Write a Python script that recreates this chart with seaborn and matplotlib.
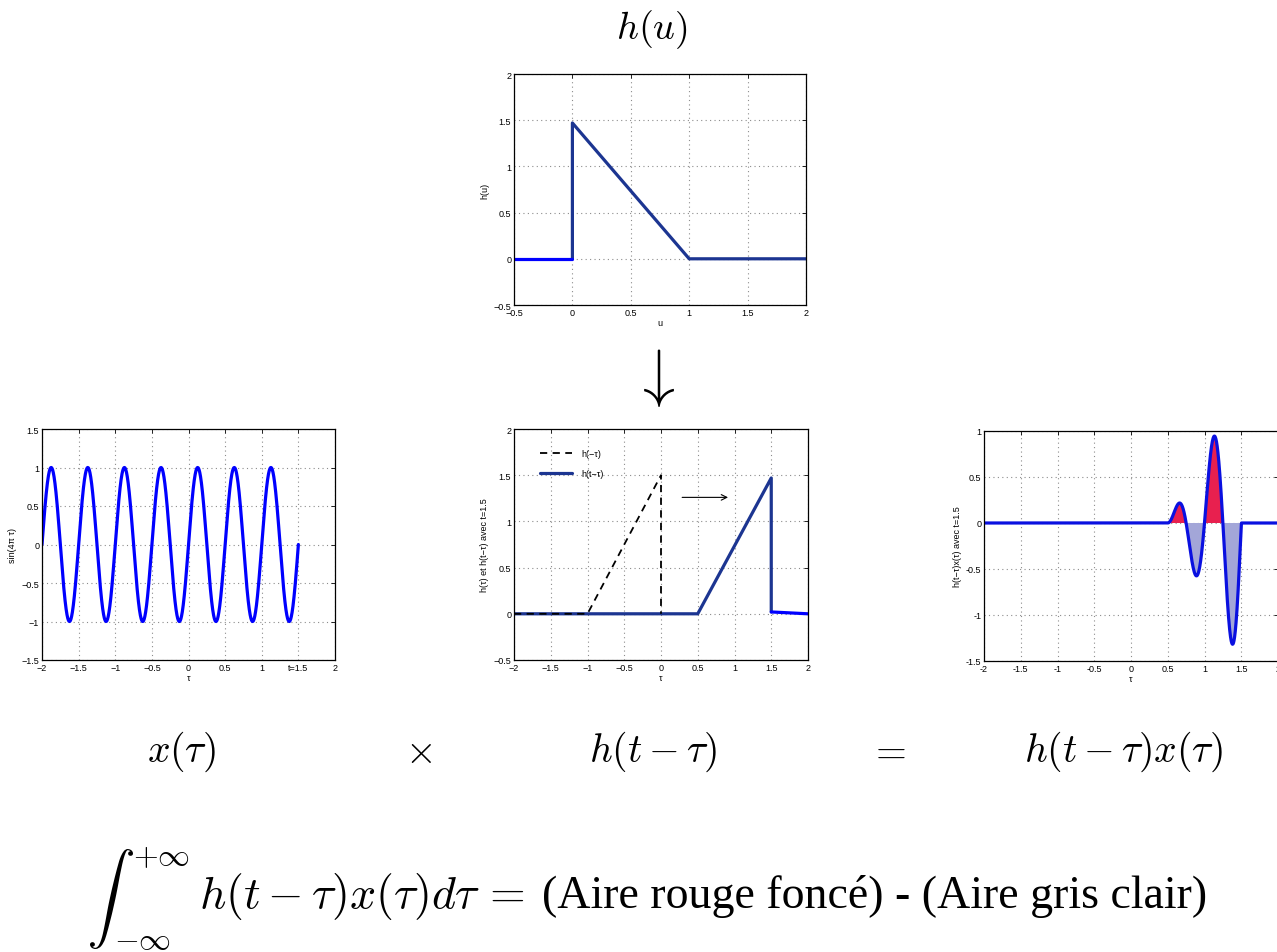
import numpy as np
import pandas as pd
import seaborn as sns
import matplotlib.pyplot as plt
from matplotlib.lines import Line2D
from matplotlib.ticker import FuncFormatter
from matplotlib.textpath import TextPath
from matplotlib.patches import PathPatch
from matplotlib.transforms import Affine2D, IdentityTransform
from matplotlib.font_manager import FontProperties

# breakpoints of h(u)
hu_x_left = [-0.5, 0.0]
hu_y_left = [0.0, 0.0]
hu_x = [0.0, 0.0, 1.0, 2.0]
hu_y = [0.0, 1.47, 0.0, 0.0]

# middle panel: h(-tau) and h(t-tau) with t=1.5
hneg_x = [-2.0, -1.0, 0.0, 0.0]
hneg_y = [0.0, 0.0, 1.5, 0.0]
hshift_x = [-2.0, 0.5, 1.5, 1.5]
hshift_y = [0.0, 0.0, 1.47, 0.02]
hshift_tail_x = [1.5, 2.0]
hshift_tail_y = [0.02, 0.0]

# sinus: sin(4 pi tau), drawn up to t=1.5
t_value = 1.5
sine_freq = 2.0
sine_amp = 1.0

sns.set_style("white")
plt.rcParams['font.family'] = ['Liberation Sans', 'DejaVu Sans']
plt.rcParams['mathtext.fontset'] = 'cm'
plt.rcParams['text.color'] = 'black'
plt.rcParams['axes.labelcolor'] = 'black'
plt.rcParams['xtick.color'] = 'black'
plt.rcParams['ytick.color'] = 'black'

W, H = 1277, 953
fig = plt.figure(figsize=(W / 100, H / 100), dpi=100)


def rect(l, t, r, b):
    return [l / W, 1 - b / H, (r - l) / W, (b - t) / H]


fmt = FuncFormatter(lambda v, p: ('%g' % v).replace('-', '\u2212'))


def matlab_look(ax, xlim, ylim, xlabel, ylabel):
    ax.set_xlim(xlim)
    ax.set_ylim(ylim)
    ax.set_xticks(np.arange(xlim[0], xlim[1] + 0.01, 0.5))
    ax.set_yticks(np.arange(ylim[0], ylim[1] + 0.01, 0.5))
    ax.xaxis.set_major_formatter(fmt)
    ax.yaxis.set_major_formatter(fmt)
    ax.grid(True, linestyle=(0, (1, 3)), color='0.55', lw=0.8)
    ax.tick_params(direction='in', top=True, right=True, length=3, width=0.6,
                   labelsize=6.5, pad=2)
    for s in ax.spines.values():
        s.set_color('black')
        s.set_linewidth(0.9)
    ax.set_xlabel(xlabel, fontsize=6.5, labelpad=1)
    ax.set_ylabel(ylabel, fontsize=6.5, labelpad=3)


navy = '#1c3591'
bright = '#0000ff'

# top: h(u)
ax_top = fig.add_axes(rect(514, 75, 806, 306))
sns.lineplot(x=hu_x, y=hu_y, ax=ax_top, color=navy, lw=2.3, sort=False, estimator=None)
sns.lineplot(x=hu_x_left, y=hu_y_left, ax=ax_top, color=bright, lw=2.3, sort=False, estimator=None)
matlab_look(ax_top, (-0.5, 2), (-0.5, 2), 'u', 'h(u)')

# left: x(tau)
tau = np.linspace(-2, t_value, 2000)
df_x = pd.DataFrame({'tau': tau, 'x': sine_amp * np.sin(2 * np.pi * sine_freq * tau)})
ax_x = fig.add_axes(rect(42, 430, 335, 661))
sns.lineplot(data=df_x, x='tau', y='x', ax=ax_x, color=bright, lw=2.3)
matlab_look(ax_x, (-2, 2), (-1.5, 1.5), '\u03c4', 'sin(4\u03c0 \u03c4)')
ax_x.set_xticklabels(['\u22122', '\u22121.5', '\u22121', '\u22120.5', '0', '0.5', '1', 't=1.5', '2'])

# middle: h(-tau), h(t-tau)
ax_h = fig.add_axes(rect(514, 430, 808, 661))
sns.lineplot(x=hshift_x, y=hshift_y, ax=ax_h, color=navy, lw=2.3, sort=False, estimator=None)
sns.lineplot(x=hshift_tail_x, y=hshift_tail_y, ax=ax_h, color=bright, lw=2.3, sort=False, estimator=None)
sns.lineplot(x=hneg_x, y=hneg_y, ax=ax_h, color='black', lw=1.3, sort=False, estimator=None,
             linestyle=(0, (4, 3)))
matlab_look(ax_h, (-2, 2), (-0.5, 2), '\u03c4', 'h(\u03c4) et h(t\u2212\u03c4) avec t=1.5')
handles = [Line2D([], [], color='black', lw=1.3, linestyle=(0, (4, 3))),
           Line2D([], [], color=navy, lw=2.3)]
ax_h.legend(handles, ['h(\u2212\u03c4)', 'h(t\u2212\u03c4)'], loc='upper left',
            bbox_to_anchor=(0.06, 0.95), frameon=False, fontsize=6.5, handlelength=3.6,
            labelspacing=1.3, handletextpad=1.0)
ax_h.annotate('', xy=(0.95, 1.26), xytext=(0.25, 1.26),
              arrowprops=dict(arrowstyle='->', lw=0.8, color='black'))

# right: product
tau_p = np.linspace(-2, 2, 3000)
h_p = np.interp(tau_p, [-2.0, 0.5, 1.5, 1.5001, 2.0], [0.0, 0.0, 1.5, 0.0, 0.0])
prod = h_p * sine_amp * np.sin(2 * np.pi * sine_freq * tau_p)
df_p = pd.DataFrame({'tau': tau_p, 'y': prod})
ax_p = fig.add_axes(rect(984, 432, 1278, 662))
ax_p.fill_between(tau_p, 0, prod, where=prod > 0, interpolate=True, color='#e8204f', lw=0)
ax_p.fill_between(tau_p, 0, prod, where=prod < 0, interpolate=True, color='#a3a6d8', lw=0)
sns.lineplot(data=df_p, x='tau', y='y', ax=ax_p, color='#0a10e0', lw=2.3)
matlab_look(ax_p, (-2, 2), (-1.5, 1), '\u03c4', 'h(t\u2212\u03c4)x(\u03c4) avec t=1.5')
ax_p.xaxis.set_major_formatter(FuncFormatter(lambda v, p: '%g' % v))
ax_p.yaxis.set_major_formatter(FuncFormatter(lambda v, p: '%g' % v))

# formulas
fs = 28.5
fig.text(652 / W, 1 - 30 / H, r'$h(u)$', fontsize=27.5, ha='center', va='center')
fig.text(181 / W, 1 - 752 / H, r'$x(\tau)$', fontsize=fs, ha='center', va='center')
fig.text(418 / W, 1 - 752 / H, r'$\times$', fontsize=fs, ha='center', va='center')
fig.text(653 / W, 1 - 752 / H, r'$h(t-\tau)$', fontsize=fs, ha='center', va='center')
fig.text(888 / W, 1 - 752 / H, r'$=$', fontsize=fs, ha='center', va='center')
fig.text(1123 / W, 1 - 752 / H, r'$h(t-\tau)x(\tau)$', fontsize=fs, ha='center', va='center')
fig.text(653 / W, 1 - 378 / H, r'$\downarrow$', fontsize=46, ha='center', va='center')

# display-size integral sign, squeezed into its box (pixels from the bottom-left)
tp = TextPath((0, 0), r'$\int$', size=100, prop=FontProperties(math_fontfamily='cm'))
ext = tp.get_extents()
int_tr = (Affine2D().translate(-ext.x0, -ext.y0)
          .scale(43 / ext.width, 100 / ext.height).translate(90, H - 950))
fig.add_artist(PathPatch(int_tr.transform_path(tp), facecolor='black', lw=0,
                         transform=IdentityTransform()))
fig.text(161 / W, 1 - 857 / H, r'$+\infty$', fontsize=23, ha='center', va='center')
fig.text(142 / W, 1 - 941 / H, r'$-\infty$', fontsize=23, ha='center', va='center')
fig.text(199 / W, 1 - 897 / H, r'$h(t-\tau)x(\tau)d\tau\,=$',
         fontsize=33, ha='left', va='center')
fig.text(1207 / W, 1 - 897 / H, '(Aire rouge foncé) - (Aire gris clair)',
         fontsize=33, ha='right', va='center', family=['Liberation Serif', 'DejaVu Serif'])

fig.savefig('out.png', dpi=100)
